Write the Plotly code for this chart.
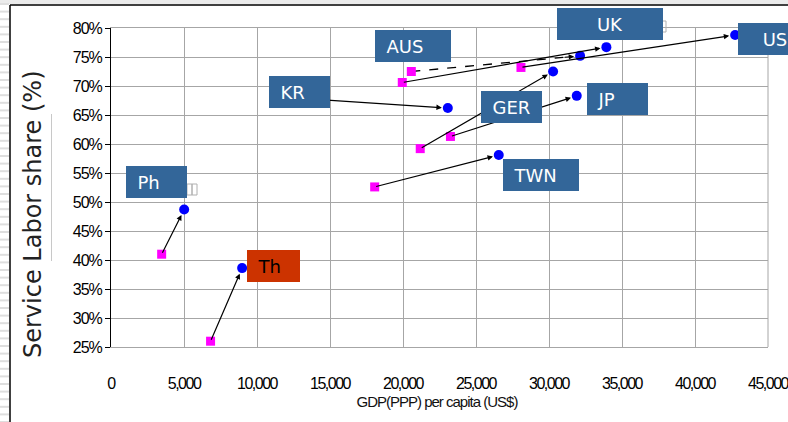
import plotly.graph_objects as go

# Service labour share vs GDP per capita: earlier year (square) -> later year (circle)
economies = ["Ph", "Th", "TWN", "KR", "AUS", "UK", "US", "GER", "JP"]
gdp_start = [3470, 6820, 18060, 12900, 20570, 19950, 28080, 21180, 23250]
share_start = [41.0, 26.0, 52.6, 67.9, 72.5, 70.6, 73.2, 59.2, 61.3]
gdp_end = [5010, 8980, 26560, 23070, 32130, 33930, 42750, 30280, 31900]
share_end = [48.7, 38.6, 58.1, 66.2, 75.2, 76.7, 78.8, 72.5, 68.3]
dashed_links = ["AUS"]

x_ticks = list(range(0, 45001, 5000))
y_ticks = list(range(25, 81, 5))
y_tick_text = [f"{v}%" for v in y_ticks]

W, H = 788, 422
L, R, T, B = 111, 20, 28, 75
PW, PH = W - L - R, H - T - B


def px_x(p):
    return (p - L) / PW


def px_y(p):
    return (H - B - p) / PH


TICK_FONT = "Liberation Sans, Arial, sans-serif"
LABEL_FONT = "DejaVu Sans, Verdana, sans-serif"
BOX_BLUE = "#336699"

# label boxes: left, top, width, height (pixels), text alignment, fill, text colour
label_boxes = {
    "UK": (557, 8, 106, 32, "center", BOX_BLUE, "white"),
    "US": (738, 23, 74, 32, "center", BOX_BLUE, "white"),
    "AUS": (375, 30, 76, 32, "left", BOX_BLUE, "white"),
    "KR": (269, 76, 61, 32, "left", BOX_BLUE, "white"),
    "GER": (481, 91, 61, 32, "left", BOX_BLUE, "white"),
    "JP": (587, 83, 61, 32, "left", BOX_BLUE, "white"),
    "TWN": (503, 159, 76, 32, "left", BOX_BLUE, "white"),
    "Ph": (126, 166, 61, 32, "left", BOX_BLUE, "white"),
    "Th": (247, 250, 53, 32, "left", "#CC3300", "black"),
}

fig = go.Figure()

annotations = []

# connecting arrows (dashed links get a dashed body and a short solid head)
for name, x0, y0, x1, y1 in zip(economies, gdp_start, share_start, gdp_end, share_end):
    if name in dashed_links:
        f = 0.9
        xm, ym = x0 + f * (x1 - x0), y0 + f * (y1 - y0)
        fig.add_trace(go.Scatter(
            x=[x0, xm], y=[y0, ym], mode="lines",
            line=dict(color="black", width=1.3, dash="dash"),
            hoverinfo="skip", showlegend=False,
        ))
        ax, ay = xm, ym
    else:
        ax, ay = x0, y0
    annotations.append(dict(
        x=x1, y=y1, ax=ax, ay=ay, xref="x", yref="y", axref="x", ayref="y",
        text="", showarrow=True, arrowhead=2, arrowsize=0.9, arrowwidth=1.2,
        arrowcolor="black", standoff=6,
    ))

fig.add_trace(go.Scatter(
    x=gdp_start, y=share_start, mode="markers", text=economies,
    marker=dict(symbol="square", size=9, color="#FF00FF"),
    showlegend=False,
))
fig.add_trace(go.Scatter(
    x=gdp_end, y=share_end, mode="markers", text=economies,
    marker=dict(symbol="circle", size=10, color="#0000FF"),
    showlegend=False,
))

for name, (left, top, w, h, align, bg, fg) in label_boxes.items():
    txt = name if align == "center" else "\u00a0\u00a0" + name
    annotations.append(dict(
        x=px_x(left), y=px_y(top), xref="paper", yref="paper",
        xanchor="left", yanchor="top", width=w, height=h,
        text=txt, align=align, valign="middle", showarrow=False,
        bgcolor=bg, borderpad=0, borderwidth=0,
        font=dict(family=LABEL_FONT, size=18, color=fg),
    ))

# axis titles
annotations.append(dict(
    x=px_x(33), y=px_y(214), xref="paper", yref="paper",
    xanchor="center", yanchor="middle", textangle=-90, showarrow=False,
    text="Service Labor share (%)",
    font=dict(family=LABEL_FONT, size=24, color="#222"),
))
annotations.append(dict(
    x=px_x(437), y=px_y(401), xref="paper", yref="paper",
    xanchor="center", yanchor="middle", showarrow=False,
    text="GDP(PPP) per capita (US$)",
    font=dict(family=TICK_FONT, size=15, color="#111"),
))

shapes = []
# slide frame: grey top band, striped left margin, black border
shapes.append(dict(type="rect", xref="paper", yref="paper",
                   x0=px_x(0), x1=px_x(W), y0=px_y(0), y1=px_y(4),
                   fillcolor="#ebebeb", line=dict(width=0), layer="below"))
y = 3.0
while y < H:
    shapes.append(dict(type="rect", xref="paper", yref="paper",
                       x0=px_x(0), x1=px_x(9), y0=px_y(y), y1=px_y(y + 2),
                       fillcolor="#dedede", line=dict(width=0), layer="below"))
    y += 7.6
shapes.append(dict(type="line", xref="paper", yref="paper",
                   x0=px_x(10), x1=px_x(W), y0=px_y(5), y1=px_y(5),
                   line=dict(color="black", width=1.5)))
shapes.append(dict(type="line", xref="paper", yref="paper",
                   x0=px_x(10), x1=px_x(10), y0=px_y(5), y1=px_y(H),
                   line=dict(color="black", width=1.5)))
# right edge of the plotting area
shapes.append(dict(type="line", xref="paper", yref="paper",
                   x0=1, x1=1, y0=0, y1=1, line=dict(color="#a6a6a6", width=1)))
# faint text-box guide beside the axis title
shapes.append(dict(type="line", xref="paper", yref="paper",
                   x0=px_x(51.5), x1=px_x(51.5), y0=px_y(114), y1=px_y(261),
                   line=dict(color="#c8c8c8", width=1)))
# small handle boxes next to two labels
for (hx0, hy0, hx1, hy1) in [(662, 21, 666, 32), (187, 184, 192, 195), (192, 184, 197, 195)]:
    shapes.append(dict(type="rect", xref="paper", yref="paper",
                       x0=px_x(hx0), x1=px_x(hx1), y0=px_y(hy0), y1=px_y(hy1),
                       line=dict(color="#b0b0b0", width=1), fillcolor="rgba(0,0,0,0)"))

fig.update_layout(
    width=W, height=H,
    margin=dict(l=L, r=R, t=T, b=B, autoexpand=False),
    paper_bgcolor="white", plot_bgcolor="white",
    annotations=annotations, shapes=shapes,
    xaxis=dict(
        range=[0, 45000], tickvals=x_ticks, tickformat=",",
        showgrid=True, gridcolor="#a6a6a6", gridwidth=1,
        showline=True, linecolor="#a6a6a6", linewidth=1, mirror=True,
        zeroline=False, ticks="outside", ticklen=22, tickcolor="rgba(0,0,0,0)",
        ticklabeloverflow="allow", automargin=False,
        tickfont=dict(family=TICK_FONT, size=16, color="black"),
    ),
    yaxis=dict(
        range=[25, 80], tickvals=y_ticks, ticktext=y_tick_text,
        showgrid=True, gridcolor="#a6a6a6", gridwidth=1,
        showline=True, linecolor="black", linewidth=1,
        zeroline=False, ticks="outside", ticklen=5, tickcolor="black",
        automargin=False,
        tickfont=dict(family=TICK_FONT, size=16, color="black"),
    ),
)

# tighten the letter spacing of the axis numbers and the x-axis caption
tighten = """
var gd = document.getElementById('{plot_id}');
gd.querySelectorAll('.xtick text').forEach(function (t) { t.style.letterSpacing = '-1.5px'; });
gd.querySelectorAll('.ytick text').forEach(function (t) { t.style.letterSpacing = '-1px'; });
gd.querySelectorAll('.annotation-text').forEach(function (t) {
    if (t.textContent.indexOf('GDP') === 0) { t.style.letterSpacing = '-1px'; }
});
"""

fig.write_html("out.html", post_script=tighten)
